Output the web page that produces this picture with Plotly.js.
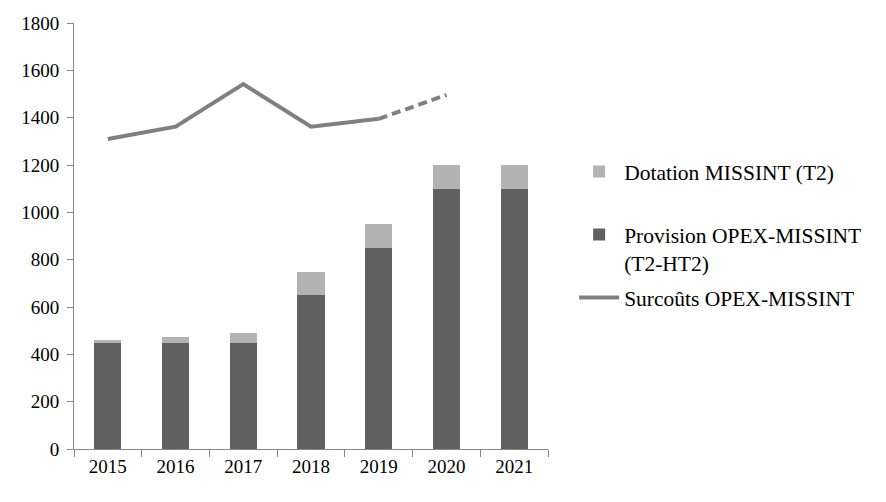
<!DOCTYPE html>
<html><head><meta charset="utf-8">
<script src="https://cdn.plot.ly/plotly-3.0.1.min.js"></script>
<style>html,body{margin:0;padding:0;background:#fff}#c{width:886px;height:502px}</style>
</head><body><div id="c"></div>
<script>
const years = ['2015','2016','2017','2018','2019','2020','2021'];
const provision = [450, 450, 450, 650, 850, 1100, 1100];
const dotation = [11, 22, 40, 100, 100, 100, 100];
const surcoutsYears = ['2015','2016','2017','2018','2019'];
const surcouts = [1310, 1362, 1542, 1362, 1395];
const surcoutsProjYears = ['2019','2020'];
const surcoutsProj = [1395, 1496];

const font = {family: '"Liberation Serif", "DejaVu Serif", serif', size: 19, color: '#000'};
const lfont = {family: '"Liberation Serif", "DejaVu Serif", serif', size: 21.5, color: '#000'};
const traces = [
  {type:'bar', x: years, y: provision, name: 'Provision OPEX-MISSINT<br>(T2-HT2)', marker:{color:'#606060'}, legendrank: 2, legendgroup:'b'},
  {type:'bar', x: years, y: dotation, name: 'Dotation MISSINT (T2)<br> ', marker:{color:'#b3b3b3'}, legendrank: 1, legendgroup:'a'},
  {type:'scatter', mode:'lines', x: surcoutsYears, y: surcouts, name: 'Surcoûts OPEX-MISSINT', line:{color:'#808080', width:4}, legendrank: 3, legendgroup:'c'},
  {type:'scatter', mode:'lines', x: surcoutsProjYears, y: surcoutsProj, showlegend:false, line:{color:'#808080', width:4, dash:'9px,5px'}}
];
const layout = {
  width: 886, height: 502,
  margin: {l: 74, r: 338, t: 23, b: 53},
  barmode: 'stack', bargap: 0.6,
  font: font,
  paper_bgcolor: '#fff', plot_bgcolor: '#fff',
  showlegend: true,
  legend: {xref:'container', yref:'container', x: 0.648, y: 0.699, xanchor:'left', yanchor:'top', traceorder:'grouped', tracegroupgap: 4, valign:'top', font: lfont, itemwidth: 40},
  xaxis: {type:'category', showline:true, linecolor:'#898989', linewidth:1, ticks:'outside', ticklen:7, tickcolor:'#898989', tickson:'boundaries', showgrid:false, zeroline:false, tickfont: font},
  yaxis: {range:[0,1800], dtick:200, showline:true, linecolor:'#898989', linewidth:1, ticks:'outside', ticklen:6, tickcolor:'#898989', showgrid:false, zeroline:false, tickfont: font, ticklabelstandoff: 4}
};
Plotly.newPlot('c', traces, layout, {displayModeBar:false, staticPlot:true});
</script></body></html>
